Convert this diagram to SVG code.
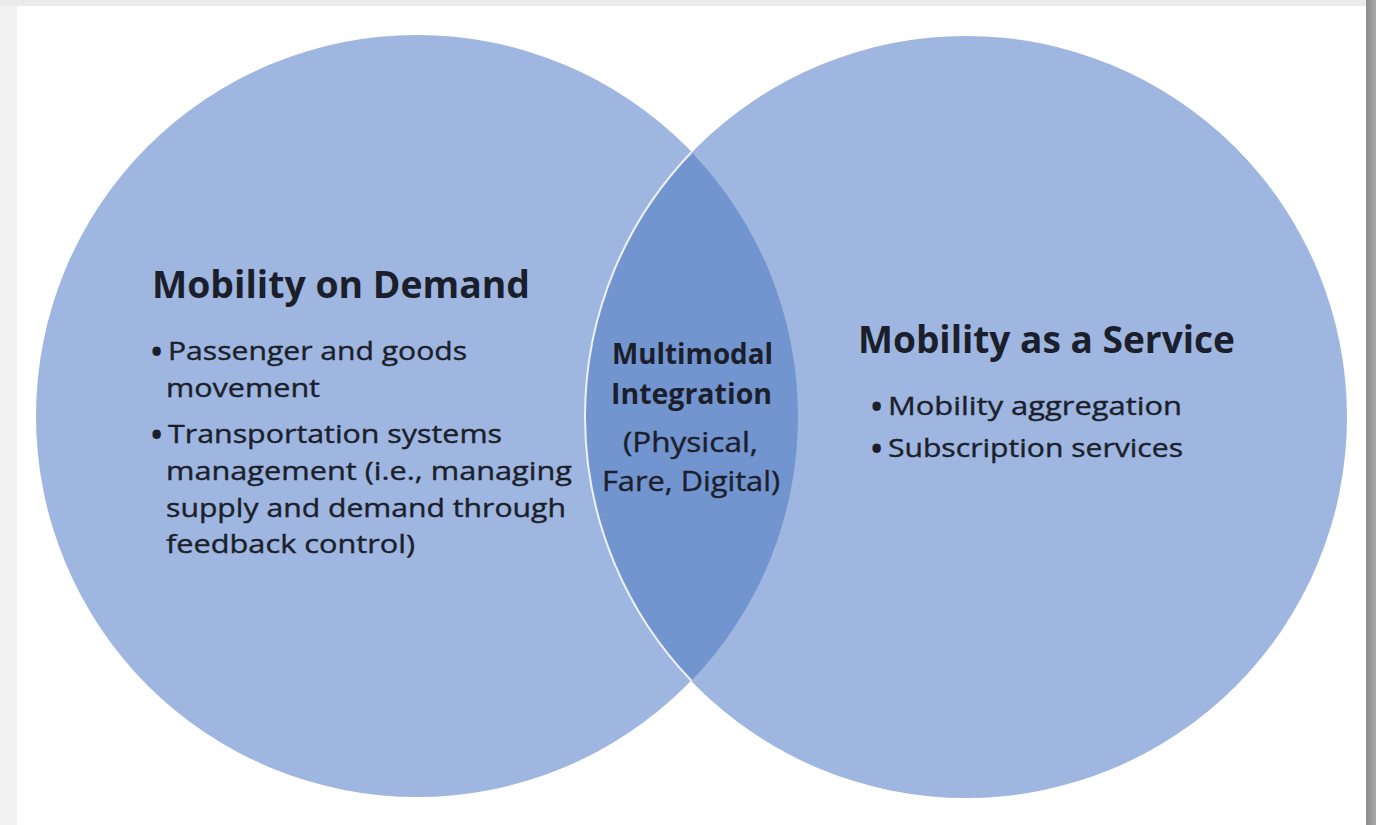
<svg xmlns="http://www.w3.org/2000/svg" width="1376" height="825" viewBox="0 0 1376 825">
  <defs>
    <linearGradient id="shadowR" x1="0" y1="0" x2="1" y2="0">
      <stop offset="0" stop-color="#8c8c8c"/>
      <stop offset="1" stop-color="#a8a8a8"/>
    </linearGradient>
    <style>
      .circle { fill: #9fb6e0; }
      .lens { fill: #7294cf; }
      .t { font-family: "Open Sans", "Liberation Sans", sans-serif; fill: #1b1f2c; }
      .h { font-size: 37px; font-weight: bold; }
      .b { font-size: 26px; stroke: #1b1f2c; stroke-width: 0.4px; }
      .dot { font-size: 30px; font-weight: bold; }
      .cb { font-size: 28px; font-weight: bold; }
      .cr { font-size: 28px; stroke: #1b1f2c; stroke-width: 0.4px; }
    </style>
  </defs>

  <!-- frame -->
  <rect x="0" y="0" width="1376" height="825" fill="#f1f1f1"/>
  <rect x="0" y="0" width="1376" height="6" fill="#ebebeb"/>
  <rect x="1366" y="0" width="10" height="825" fill="url(#shadowR)"/>
  <rect x="17" y="6" width="1349" height="819" fill="#ffffff"/>

  <g id="circle-mod">
    <circle class="circle" cx="417" cy="416" r="381"/>
  </g>
  <g id="circle-maas">
    <circle class="circle" cx="966" cy="417" r="381"/>
  </g>
  <g id="overlap">
    <path class="lens" d="M 691.5 152.3 A 381 381 0 0 1 691.5 680.7 A 381 381 0 0 1 691.5 152.3 Z"/>
    <path d="M 691.5 680.7 A 381 381 0 0 1 691.5 152.3" fill="none" stroke="#ffffff" stroke-width="2" stroke-opacity="0.85"/>
  </g>

  <g id="text-mod">
    <text class="t h" x="152" y="298" textLength="378" lengthAdjust="spacingAndGlyphs">Mobility on Demand</text>
    <text class="t dot" x="151" y="362">•</text>
    <text class="t b" x="168" y="360" textLength="299" lengthAdjust="spacingAndGlyphs">Passenger and goods</text>
    <text class="t b" x="166" y="397" textLength="154" lengthAdjust="spacingAndGlyphs">movement</text>
    <text class="t dot" x="151" y="445">•</text>
    <text class="t b" x="168" y="443" textLength="334" lengthAdjust="spacingAndGlyphs">Transportation systems</text>
    <text class="t b" x="166" y="480" textLength="406" lengthAdjust="spacingAndGlyphs">management (i.e., managing</text>
    <text class="t b" x="166" y="517" textLength="400" lengthAdjust="spacingAndGlyphs">supply and demand through</text>
    <text class="t b" x="166" y="553" textLength="249" lengthAdjust="spacingAndGlyphs">feedback control)</text>
  </g>

  <g id="text-overlap">
    <text class="t cb" x="612" y="364" textLength="161" lengthAdjust="spacingAndGlyphs">Multimodal</text>
    <text class="t cb" x="611" y="404" textLength="161" lengthAdjust="spacingAndGlyphs">Integration</text>
    <text class="t cr" x="623" y="452" textLength="135" lengthAdjust="spacingAndGlyphs">(Physical,</text>
    <text class="t cr" x="602" y="491" textLength="178" lengthAdjust="spacingAndGlyphs">Fare, Digital)</text>
  </g>

  <g id="text-maas">
    <text class="t h" x="858" y="353" textLength="377" lengthAdjust="spacingAndGlyphs">Mobility as a Service</text>
    <text class="t dot" x="871" y="417">•</text>
    <text class="t b" x="888" y="415" textLength="294" lengthAdjust="spacingAndGlyphs">Mobility aggregation</text>
    <text class="t dot" x="871" y="459">•</text>
    <text class="t b" x="888" y="457" textLength="295" lengthAdjust="spacingAndGlyphs">Subscription services</text>
  </g>
</svg>
